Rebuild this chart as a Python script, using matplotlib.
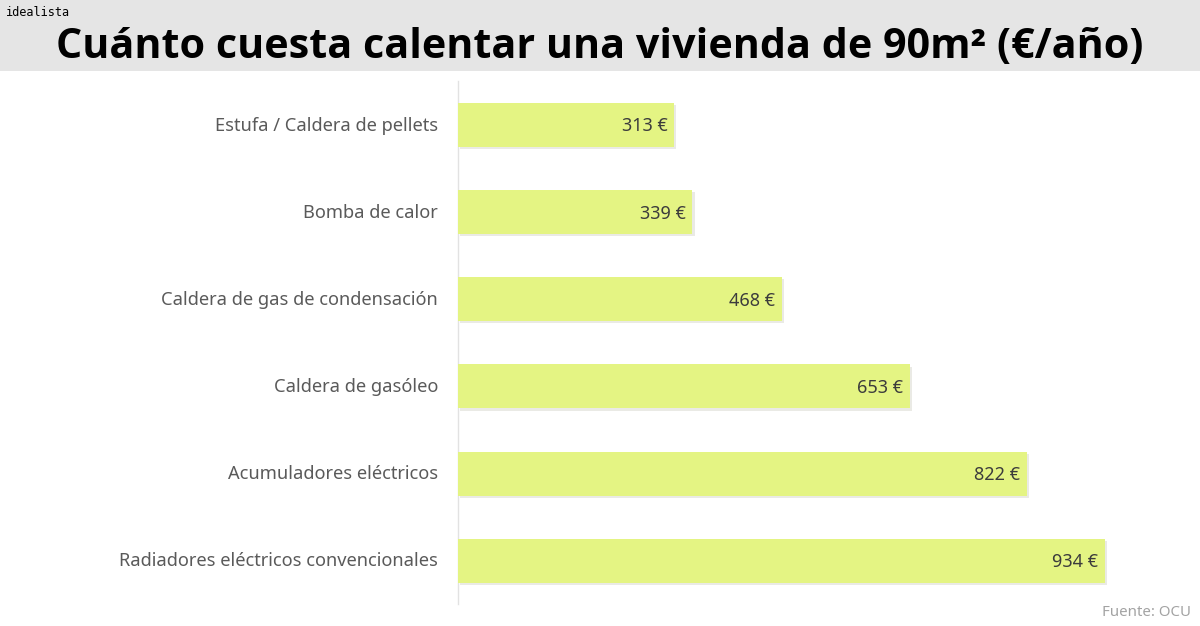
import matplotlib
matplotlib.use("Agg")
import matplotlib.pyplot as plt
import matplotlib.patheffects as pe
from matplotlib.patches import Rectangle
from matplotlib.transforms import ScaledTranslation

plt.rcParams["font.family"] = ["Noto Sans", "DejaVu Sans"]

# data
categories = [
    "Estufa / Caldera de pellets",
    "Bomba de calor",
    "Caldera de gas de condensación",
    "Caldera de gasóleo",
    "Acumuladores eléctricos",
    "Radiadores eléctricos convencionales",
]
coste = [313, 339, 468, 653, 822, 934]

W, H = 1200, 626
BAR_COLOR = "#e4f483"
TEXT_COLOR = "#5a5a5a"

fig = plt.figure(figsize=(W / 100, H / 100), dpi=100, facecolor="white")

# header band
fig.add_artist(Rectangle((0, 1 - 71 / H), 1, 71 / H, transform=fig.transFigure,
                         facecolor="#e5e5e5", edgecolor="none"))
fig.text(6 / W, 1 - 13 / H, "idealista", fontsize=8.6, family="DejaVu Sans Mono",
         color="black", ha="left", va="center")
fig.text(600 / W, 1 - 48 / H, "Cuánto cuesta calentar una vivienda de 90m² (€/año)",
         fontsize=29.7, fontweight="bold", family="Open Sans", color="black",
         ha="center", va="center")

# plot area, left edge sits on the zero line
ax = fig.add_axes([457.5 / W, 1 - 604.4 / H, (W - 457.5) / W, (604.4 - 81.4) / H])
ax.patch.set_alpha(0)
ax.set_axisbelow(True)
bars = ax.barh(categories, coste, height=0.505, color=BAR_COLOR, zorder=3)
for b in bars:
    b.set_path_effects([
        pe.SimplePatchShadow(offset=(1.5, -1.5), shadow_rgbFace="#bbbbaa", alpha=0.3),
        pe.Normal(),
    ])
ax.set_xlim(0, (W - 457.5) / 0.693)
ax.set_ylim(5.5, -0.5)

for b, v in zip(bars, coste):
    ax.annotate(f"{v} €", (v, b.get_y() + b.get_height() / 2), xytext=(-5, -1),
                textcoords="offset points", ha="right", va="center",
                fontsize=13, color="#3c3c3c", zorder=4)

for s in ["top", "right", "bottom"]:
    ax.spines[s].set_visible(False)
ax.spines["left"].set_color("#e2e2e2")
ax.spines["left"].set_linewidth(1)
ax.spines["left"].set_zorder(1)
ax.xaxis.set_visible(False)
ax.tick_params(axis="y", length=0, pad=14, labelsize=13.15, labelcolor=TEXT_COLOR)
# tick labels sit slightly above the bar centres
for lab in ax.get_yticklabels():
    lab.set_transform(lab.get_transform() + ScaledTranslation(0, 1 / 72, fig.dpi_scale_trans))

fig.text(1191 / W, 1 - 612 / H, "Fuente: OCU", fontsize=10.8, color="#a3a3a3",
         ha="right", va="center")

fig.savefig("out.png", dpi=100)
